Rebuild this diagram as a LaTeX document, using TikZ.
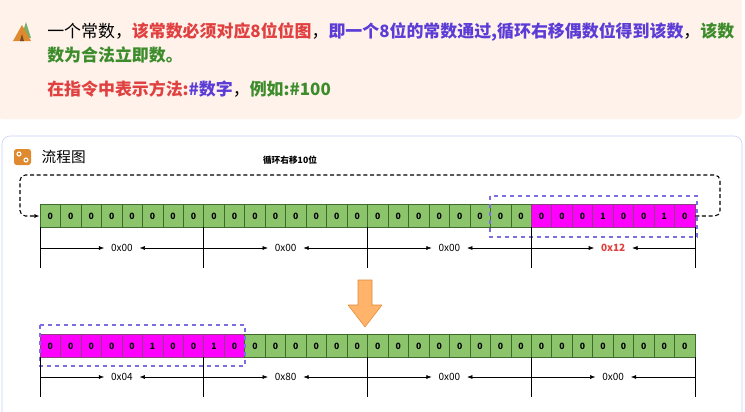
\documentclass[tikz,border=0pt]{standalone}
\usepackage{fontspec}
\setmainfont{Noto Sans CJK SC}
\usetikzlibrary{arrows.meta,positioning}
\definecolor{cardbg}{HTML}{FEF2EA}
\definecolor{cardline}{HTML}{C9CFF5}
\definecolor{txtred}{HTML}{E04040}
\definecolor{txtpurple}{HTML}{5B3CD6}
\definecolor{txtgreen}{HTML}{3C8C2C}
\definecolor{cellgreen}{HTML}{8CC46C}
\definecolor{cellline}{HTML}{3F6B2A}
\definecolor{cellpink}{RGB}{255,0,255}
\definecolor{boxpurple}{HTML}{7A6EE0}
\definecolor{arrowfill}{HTML}{FFB36B}
\definecolor{arrowline}{HTML}{E08A30}
\tikzset{
  cell/.style={draw=cellline, fill=cellgreen, minimum width=15.35pt, minimum height=17pt, inner sep=0pt, font=\fontsize{6.5}{6}\selectfont\bfseries},
  hotcell/.style={cell, fill=cellpink, draw=cellline!60!cellpink},
  hexlabel/.style={font=\fontsize{7.5}{8}\selectfont, inner sep=5pt},
  span/.style={-{Latex[length=4pt,width=3pt]}},
  bitline/.style={font=\fontsize{12.7}{14}\selectfont\bfseries, anchor=west, inner sep=0pt}
}
\begin{document}
\begin{tikzpicture}[x=0.75pt,y=-0.75pt]
\useasboundingbox (0,0) rectangle (745,411);
\fill[white] (0,0) rectangle (745,411);
% cards
\fill[cardbg, rounded corners=6pt] (-5,-5) rectangle (742,119);
\draw[cardline, fill=white, rounded corners=6pt] (2,136) rectangle (742,420);
% tent icon
\fill[txtgreen!70] (26,22) -- (31,38) -- (21,38) -- cycle;
\fill[arrowline] (13,41) -- (22,25) -- (31,41) -- cycle;
\fill[brown!60!black] (20,41) -- (22,34) -- (24,41) -- cycle;
% text lines
\node[bitline] (l1) at (47,32) {\mdseries 一个常数，\bfseries\color{txtred}该常数必须对应8位位图\color{black}\mdseries，\bfseries\color{txtpurple}即一个8位的常数通过,循环右移偶数位得到该数\color{black}\mdseries，\bfseries\color{txtgreen}该数};
\node[bitline, text=txtgreen] (l2) at (47,55) {数为合法立即数。};
\node[bitline] (l3) at (47,89) {\color{txtred}在指令中表示方法:\color{txtpurple}\#数字\color{black}\mdseries，\bfseries\color{txtgreen}例如:\#100};
% flow header
\fill[arrowline, rounded corners=2pt] (14,149) rectangle (31,165);
\draw[white, line width=0.8pt] (19,154) circle (2) (26,160) circle (2);
\node[anchor=west, font=\fontsize{11}{12}\selectfont] (hdr) at (37,157) {流程图};
\node[font=\fontsize{6.5}{7}\selectfont\bfseries] (shift) at (290,160) {循环右移10位};
% top row
\foreach \i in {1,...,24}
  \node[cell] (t\i) at ({40+20.47*(\i-0.5)},216) {0};
\foreach \i/\v in {25/0,26/0,27/0,28/1,29/0,30/0,31/1,32/0}
  \node[hotcell] (t\i) at ({40+20.47*(\i-0.5)},216) {\v};
\draw[boxpurple, dashed, thick] (490,196) rectangle (697,237);
% loop connector
\coordinate (lr) at (720,216);
\coordinate (ll) at (20,216);
\draw[densely dashed, thick, -{Latex[length=4pt,width=3pt]}, rounded corners=4pt]
  (t32.east) -- (lr) -- (720,175) -- (20,175) -- (ll) -- (t1.west);
% top groups
\foreach \g/\txt/\c in {0/0x00/black,1/0x00/black,2/0x00/black,3/\textbf{0x12}/txtred} {
  \coordinate (ta\g) at ({40+163.75*\g},227);
  \coordinate (tb\g) at ({40+163.75*(\g+1)},227);
  \draw (ta\g) -- ++(0,41);
  \node[hexlabel, text=\c] (th\g) at ({40+163.75*(\g+0.5)},248) {\txt};
  \draw[span] ({40+163.75*\g},248) -- (th\g.west);
  \draw[span] ({40+163.75*(\g+1)},248) -- (th\g.east);
}
\draw (tb3) -- ++(0,41);
% shift arrow
\draw[arrowline, fill=arrowfill, line join=round] (358,280) -- (372,280) -- (372,305) -- (382,305) -- (365,327) -- (348,305) -- (358,305) -- cycle;
% bottom row
\foreach \i/\v in {1/0,2/0,3/0,4/0,5/0,6/1,7/0,8/0,9/1,10/0}
  \node[hotcell] (b\i) at ({40+20.47*(\i-0.5)},346) {\v};
\foreach \i in {11,...,32}
  \node[cell] (b\i) at ({40+20.47*(\i-0.5)},346) {0};
\draw[boxpurple, dashed, thick] (40,325) rectangle (245,366);
\foreach \g/\txt in {0/0x04,1/0x80,2/0x00,3/0x00} {
  \coordinate (ba\g) at ({40+163.75*\g},357);
  \draw (ba\g) -- ++(0,40);
  \node[hexlabel] (bh\g) at ({40+163.75*(\g+0.5)},377) {\txt};
  \draw[span] ({40+163.75*\g},377) -- (bh\g.west);
  \draw[span] ({40+163.75*(\g+1)},377) -- (bh\g.east);
}
\draw (695,357) -- (695,397);
\end{tikzpicture}
\end{document}
